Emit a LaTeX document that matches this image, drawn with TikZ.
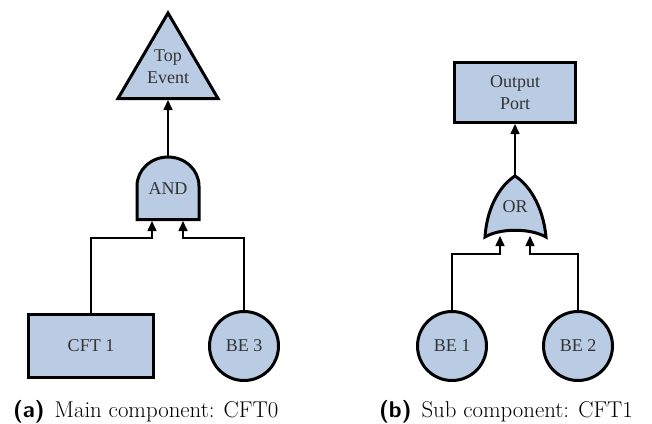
\documentclass[tikz,border=0pt]{standalone}
\usepackage{fontspec}
\newfontfamily\diagfont{Liberation Serif}
\usetikzlibrary{arrows.meta,calc}
\definecolor{gatefill}{HTML}{B9CCE4}
\definecolor{textgrey}{HTML}{333333}
\begin{document}
\begin{tikzpicture}[x=1pt,y=-1pt,
  outline/.style={draw=black,line width=3pt,fill=gatefill,line join=miter},
  txt/.style={font=\diagfont\fontsize{18}{22}\selectfont,text=textgrey,align=center,inner sep=0pt},
  conn/.style={line width=1.6pt,-{Triangle[length=10pt,width=9pt]}},
  caption/.style={font=\fontsize{22.8}{26}\selectfont,anchor=base west,inner sep=0pt}]
\useasboundingbox (0,0) rectangle (652,423);

% ---------- (a) main component CFT0 ----------
% top event triangle
\draw[outline] (168,13) -- (218,98.5) -- (118,98.5) -- cycle;
\node[txt] (top) at (168,67) {Top\\Event};
\coordinate (topin) at (168,100);

% AND gate
\draw[outline] (137,219.5) -- (137,186)
  arc[start angle=180,end angle=360,x radius=31,y radius=29] -- (199,219.5) -- cycle;
\node[txt] (and) at (168,189) {AND};
\coordinate (andout) at (168,157);
\coordinate (andinl) at (152,221);
\coordinate (andinr) at (183,221);

% inputs
\node[outline,txt,minimum width=125pt,minimum height=63pt] (cft) at (91,346) {CFT 1};
\node[outline,txt,circle,minimum size=69pt] (be3) at (244,346) {BE 3};

\draw[conn] (andout) -- (topin);
\draw[conn] (cft.north) |- ($(andinl)+(0,17)$) -- (andinl);
\draw[conn] (be3.north) |- ($(andinr)+(0,17)$) -- (andinr);

% ---------- (b) sub component CFT1 ----------
\node[outline,txt,minimum width=121pt,minimum height=60pt] (port) at (515,92.5) {Output\\Port};

% OR gate
\draw[outline] (485,237) .. controls (487,205) and (502,184) .. (515,176)
  .. controls (528,184) and (543,205) .. (546,237)
  .. controls (530,228) and (500,228) .. (485,237) -- cycle;
\node[txt] (or) at (515,207) {OR};
\coordinate (orout) at (515,175);
\coordinate (orinl) at (500,236);
\coordinate (orinr) at (530,236);

\node[outline,txt,circle,minimum size=69pt] (be1) at (452,346) {BE 1};
\node[outline,txt,circle,minimum size=69pt] (be2) at (578,346) {BE 2};

\draw[conn] (orout) -- (port.south);
\draw[conn] (be1.north) |- ($(orinl)+(0,18)$) -- (orinl);
\draw[conn] (be2.north) |- ($(orinr)+(0,18)$) -- (orinr);

% ---------- captions ----------
\node[caption] (capa) at (13,417) {{\sffamily\bfseries (a)}\hspace{10pt}Main component: CFT0};
\node[caption] (capb) at (379,417) {{\sffamily\bfseries (b)}\hspace{10pt}Sub component: CFT1};
\end{tikzpicture}
\end{document}
